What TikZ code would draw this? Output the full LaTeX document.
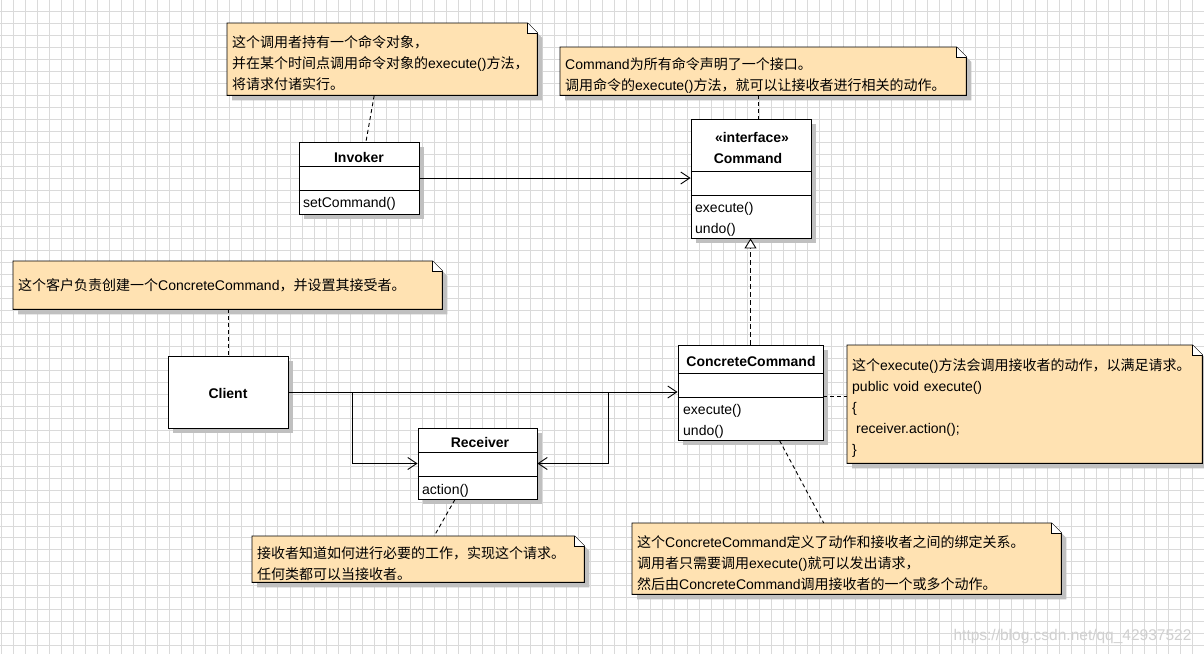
\documentclass[tikz,border=0pt]{standalone}
\usepackage{fontspec}
\setmainfont{Liberation Sans}
\newfontfamily\cjk{Noto Sans CJK SC}
\usetikzlibrary{arrows.meta,shadows}
\definecolor{notefill}{RGB}{255,226,178}
\definecolor{shadowc}{RGB}{192,192,192}
\definecolor{gridc}{RGB}{218,218,218}
\definecolor{wmc}{RGB}{208,208,208}
\newcommand\zh[1]{{\cjk #1}}
\newcommand\topgap{\rule{0pt}{20pt}}
\pgfdeclarelayer{gridlayer}
\pgfdeclarelayer{back}
\pgfsetlayers{gridlayer,back,main}
\newcommand\notedraw[1]{%
\begin{pgfonlayer}{back}
\fill[shadowc] ([shift={(5pt,-5pt)}]#1.north west) -- ([shift={(-5pt,-5pt)}]#1.north east) -- ([shift={(5pt,-15pt)}]#1.north east) -- ([shift={(5pt,-5pt)}]#1.south east) -- ([shift={(5pt,-5pt)}]#1.south west) -- cycle;
\draw[line width=0.9pt, fill=notefill] (#1.north west) -- ([xshift=-10pt]#1.north east) -- ([yshift=-10pt]#1.north east) -- (#1.south east) -- (#1.south west) -- cycle;
\draw[line width=0.9pt, fill=white] ([xshift=-10pt]#1.north east) -- ([xshift=-10pt,yshift=-10pt]#1.north east) -- ([yshift=-10pt]#1.north east);
\end{pgfonlayer}}
\tikzset{
  cls/.style={draw, fill=white, line width=0.9pt, inner sep=0pt,
    drop shadow={shadow xshift=5pt, shadow yshift=-5pt, fill=shadowc, opacity=1}},
  ttl/.style={font=\fontsize{14}{16}\selectfont\bfseries, inner sep=0pt},
  mth/.style={font=\fontsize{14}{16}\selectfont, inner sep=0pt, anchor=west},
  note/.style={anchor=north west, inner xsep=5pt, inner ysep=0pt, align=left,
    font=\fontsize{14}{21}\selectfont},
  conn/.style={line width=0.9pt},
  assoc/.style={conn, -{Straight Barb[length=9pt, width=12pt]}},
  realize/.style={conn, dash pattern=on 5pt off 3pt, -{Triangle[open, fill=white, length=10pt, width=12pt]}},
  notelink/.style={conn, dash pattern=on 4pt off 3pt},
  compart/.style={line width=0.9pt}
}
\begin{document}
\begin{tikzpicture}[x=1pt,y=-1pt]
\useasboundingbox (0,0) rectangle (1204,654);
\begin{pgfonlayer}{gridlayer}
\fill[white] (0,0) rectangle (1204,654);
\foreach \i in {0,...,100} {\draw[gridc, line width=1pt] ({1.3+12.03*\i},0) -- ({1.3+12.03*\i},654);}
\foreach \j in {0,...,54} {\draw[gridc, line width=1pt] (0,{11.3+11.97*\j}) -- (1204,{11.3+11.97*\j});}
\end{pgfonlayer}

% ---------- classes ----------
\node[cls, minimum width=120pt, minimum height=72pt] (inv) at (359,178) {};
\draw[compart] (inv.west |- 0,166) -- (inv.east |- 0,166);
\draw[compart] (inv.west |- 0,190) -- (inv.east |- 0,190);
\node[ttl] (invT) at (359,157) {Invoker};
\node[mth] (invM) at (303,204) {setCommand()};

\node[cls, minimum width=120pt, minimum height=119pt] (cmd) at (751,178.5) {};
\draw[compart] (cmd.west |- 0,171.5) -- (cmd.east |- 0,171.5);
\draw[compart] (cmd.west |- 0,195.5) -- (cmd.east |- 0,195.5);
\node[ttl] (cmdS) at (752,137) {«interface»};
\node[ttl] (cmdT) at (748,158) {Command};
\node[mth] (cmdM1) at (695,209) {execute()};
\node[mth] (cmdM2) at (695,230) {undo()};

\node[cls, minimum width=145pt, minimum height=95pt] (cc) at (750.5,392.5) {};
\draw[compart] (cc.west |- 0,373) -- (cc.east |- 0,373);
\draw[compart] (cc.west |- 0,397) -- (cc.east |- 0,397);
\node[ttl] (ccT) at (751,361) {ConcreteCommand};
\node[mth] (ccM1) at (683,410.5) {execute()};
\node[mth] (ccM2) at (683,431.5) {undo()};

\node[cls, minimum width=119pt, minimum height=71pt] (rcv) at (477.5,463.5) {};
\draw[compart] (rcv.west |- 0,452) -- (rcv.east |- 0,452);
\draw[compart] (rcv.west |- 0,476) -- (rcv.east |- 0,476);
\node[ttl] (rcvT) at (480,442) {Receiver};
\node[mth] (rcvM) at (422,490.5) {action()};

\node[cls, minimum width=120pt, minimum height=72pt] (cli) at (228,392) {};
\node[ttl] (cliT) at (228,393.5) {Client};

% ---------- notes ----------
\node[note, text width=300pt, minimum height=72pt] (n1) at (227,23) {%
\topgap\zh{这个调用者持有一个命令对象，}\\
\zh{并在某个时间点调用命令对象的}execute()\zh{方法，}\\
\zh{将请求付诸实行。}};
\notedraw{n1}

\node[note, text width=396pt, minimum height=48pt] (ncmd) at (560,47) {%
\topgap Command\zh{为所有命令声明了一个接口。}\\
\zh{调用命令的}execute()\zh{方法，就可以让接收者进行相关的动作。}};
\notedraw{ncmd}

\node[note, text width=419pt, minimum height=48pt] (ncli) at (13,261) {%
\zh{这个客户负责创建一个}ConcreteCommand\zh{，并设置其接受者。}};
\notedraw{ncli}

\node[note, text width=345pt, minimum height=118pt] (nexe) at (847,345) {%
\topgap\zh{这个}execute()\zh{方法会调用接收者的动作，以满足请求。}\\
public void execute()\\
\{\\
\hspace*{4pt}receiver.action();\\
\}};
\notedraw{nexe}

\node[note, text width=322pt, minimum height=46pt] (nrcv) at (252,536) {%
\topgap\zh{接收者知道如何进行必要的工作，实现这个请求。}\\
\zh{任何类都可以当接收者。}};
\notedraw{nrcv}

\node[note, text width=419pt, minimum height=71pt] (ncc) at (632,523) {%
\topgap\zh{这个}ConcreteCommand\zh{定义了动作和接收者之间的绑定关系。}\\
\zh{调用者只需要调用}execute()\zh{就可以发出请求，}\\
\zh{然后由}ConcreteCommand\zh{调用接收者的一个或多个动作。}};
\notedraw{ncc}

% ---------- connectors ----------
\draw[assoc] (inv.east) -- (inv.east -| cmd.west);
\draw[assoc] (cli.east) -- (cli.east -| cc.west);
\coordinate (b1) at (352,392);
\coordinate (b2) at (608,392);
\draw[assoc] (b1) |- (rcv.west);
\draw[assoc] (b2) |- (rcv.east);
\draw[realize] (cc.north) -- (cc.north |- cmd.south);

\draw[notelink] ([xshift=-8pt]n1.south) -- ([xshift=7pt]inv.north);
\draw[notelink] ([xshift=7pt]cmd.north |- ncmd.south) -- ([xshift=7pt]cmd.north);
\draw[notelink] (cli.north |- ncli.south) -- (cli.north);
\draw[notelink] ([yshift=-3.5pt]cc.east) -- ([yshift=-3.5pt]cc.east -| nexe.west);
\draw[notelink] ([xshift=29pt]cc.south) -- ([xshift=-23pt]ncc.north);
\draw[notelink] ([xshift=-22.5pt]rcv.south) -- ([xshift=16pt]nrcv.north);

% ---------- watermark ----------
\node[font=\fontsize{15.5}{16}\selectfont, text=wmc, inner sep=0pt] (wm) at (1072.5,636.5) {https://blog.csdn.net/qq\_42937522};
\end{tikzpicture}
\end{document}
